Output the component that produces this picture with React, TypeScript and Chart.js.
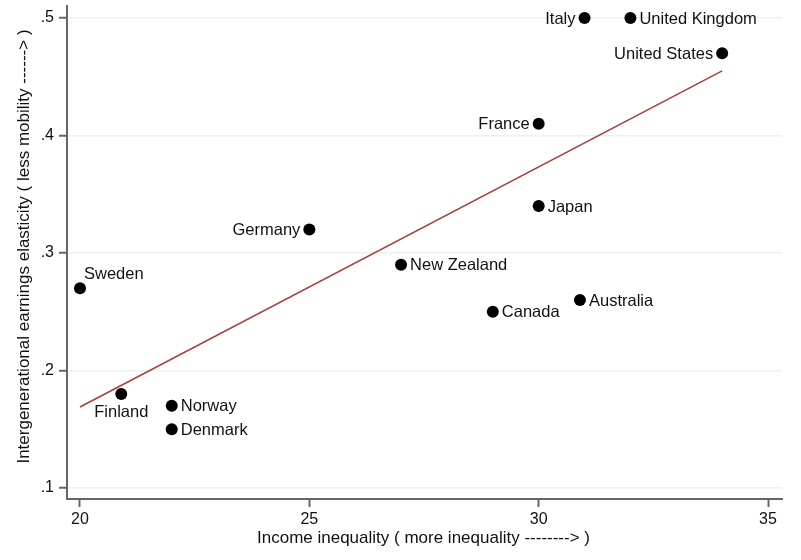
import React, { useEffect, useRef } from "react";
import { Chart, registerables } from "chart.js";

Chart.register(...registerables);

const countries = [
  "Italy", "United Kingdom", "United States", "France", "Japan", "Germany",
  "New Zealand", "Sweden", "Canada", "Australia", "Finland", "Norway", "Denmark",
];
const incomeInequality = [31, 32, 34, 30, 30, 25, 27, 20, 29, 30.9, 20.9, 22, 22];
const earningsElasticity = [0.5, 0.5, 0.47, 0.41, 0.34, 0.32, 0.29, 0.27, 0.25, 0.26, 0.18, 0.17, 0.15];

const fitX = [20, 34];
const fitY = [0.169, 0.455];

const xTicks = [20, 25, 30, 35];
const yTicks = [0.1, 0.2, 0.3, 0.4, 0.5];
const yTickLabels = [".1", ".2", ".3", ".4", ".5"];

const xTitle = "Income inequality ( more inequality --------> )";
const yTitle = "Intergenerational earnings elasticity ( less mobility ------> )";

// label placement (clock positions, Stata style)
const labelPos: Record<string, number> = {
  Italy: 9, "United States": 9, France: 9, Germany: 9, Sweden: 1, Finland: 6,
};

const FONT = "'Liberation Sans', Arial, sans-serif";

export default function App() {
  const ref = useRef<HTMLCanvasElement>(null);
  useEffect(() => {
    const ctx = ref.current!;
    const labelPlugin = {
      id: "pointLabels",
      afterDatasetsDraw(chart: any) {
        const meta = chart.getDatasetMeta(1);
        const c = chart.ctx;
        c.save();
        c.font = `16.5px ${FONT}`;
        c.fillStyle = "#111";
        meta.data.forEach((el: any, i: number) => {
          const name = countries[i];
          const pos = labelPos[name] ?? 3;
          const { x, y } = el;
          c.textBaseline = "middle";
          if (pos === 3) {
            c.textAlign = "left";
            c.fillText(name, x + 9, y + 1);
          } else if (pos === 9) {
            c.textAlign = "right";
            c.fillText(name, x - 9, y + 1);
          } else if (pos === 1) {
            c.textAlign = "left";
            c.fillText(name, x + 4, y - 14);
          } else if (pos === 6) {
            c.textAlign = "center";
            c.fillText(name, x, y + 18);
          }
        });
        c.restore();
      },
      afterDraw(chart: any) {
        const c = chart.ctx;
        const a = chart.chartArea;
        c.save();
        c.font = `17px ${FONT}`;
        c.fillStyle = "#111";
        c.textAlign = "center";
        c.textBaseline = "middle";
        c.fillText(xTitle, (a.left + a.right) / 2 - 1, 538);
        c.translate(24, (a.top + a.bottom) / 2 - 6);
        c.rotate(-Math.PI / 2);
        c.fillText(yTitle, 0, 0);
        c.restore();
      },
    };
    const chart = new Chart(ctx, {
      type: "scatter",
      data: {
        datasets: [
          {
            type: "line",
            data: fitX.map((x, i) => ({ x, y: fitY[i] })),
            borderColor: "#a8403f",
            borderWidth: 1.6,
            pointRadius: 0,
            fill: false,
          } as any,
          {
            type: "scatter",
            data: incomeInequality.map((x, i) => ({ x, y: earningsElasticity[i] })),
            backgroundColor: "#000",
            borderColor: "#000",
            pointRadius: 6,
            pointBorderWidth: 0,
          },
        ],
      },
      options: {
        animation: false,
        responsive: false,
        layout: { padding: { left: 0, right: 19, top: 5, bottom: 0 } },
        plugins: { legend: { display: false }, tooltip: { enabled: false } },
        scales: {
          x: {
            type: "linear",
            min: 19.7166,
            max: 35.305,
            afterFit: (s: any) => { s.height = 61; },
            afterBuildTicks: (s: any) => { s.ticks = xTicks.map((v) => ({ value: v })); },
            ticks: {
              font: { family: FONT, size: 16 },
              color: "#111",
              padding: 3,
              maxRotation: 0,
              callback: (v: any) => String(v),
            },
            grid: { drawOnChartArea: false, drawTicks: true, tickLength: 8, tickColor: "#666", tickWidth: 2 },
            border: { display: true, color: "#666", width: 2 },
          },
          y: {
            type: "linear",
            min: 0.09066,
            max: 0.5102,
            afterFit: (s: any) => { s.width = 67; },
            afterBuildTicks: (s: any) => { s.ticks = yTicks.map((v) => ({ value: v })); },
            ticks: {
              font: { family: FONT, size: 16, lineHeight: 0.1 },
              color: "#111",
              padding: 5,
              callback: (v: any) => {
                const idx = yTicks.findIndex((t) => Math.abs(t - v) < 1e-6);
                return idx >= 0 ? yTickLabels[idx] : "";
              },
            },
            grid: { color: "#edf1f2", lineWidth: 1.5, drawTicks: true, tickLength: 8, tickColor: "#666", tickWidth: 2 },
            border: { display: true, color: "#666", width: 2 },
          },
        },
      },
      plugins: [labelPlugin],
    });
    return () => chart.destroy();
  }, []);
  return (
    <div style={{ position: "fixed", left: 0, top: 0, width: 801, height: 560, background: "#fff" }}>
      <canvas ref={ref} width={801} height={560} />
    </div>
  );
}
